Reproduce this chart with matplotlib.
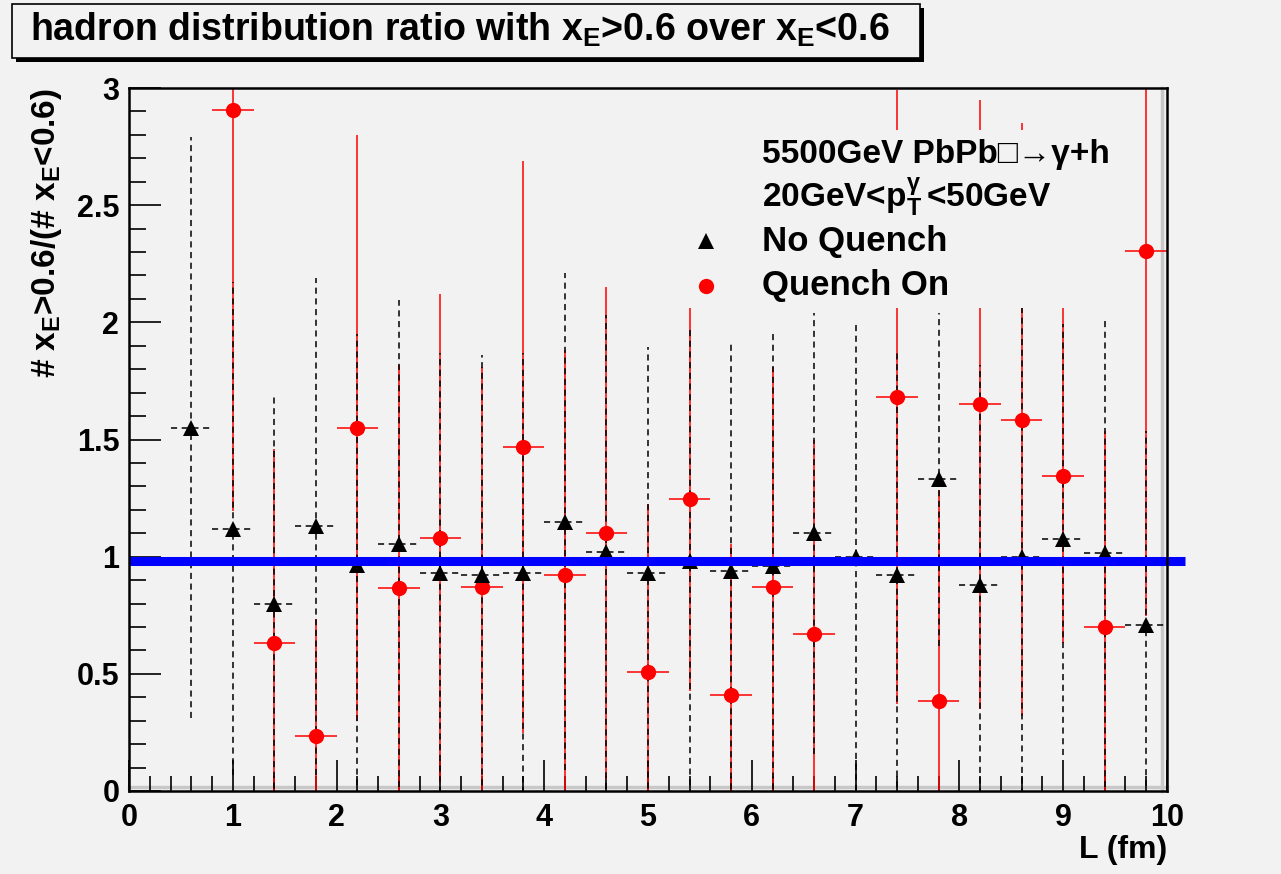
import numpy as np
import matplotlib
matplotlib.use("Agg")
import matplotlib.pyplot as plt
from matplotlib.patches import Rectangle
from matplotlib.lines import Line2D

plt.rcParams['font.family'] = ['Liberation Sans', 'DejaVu Sans']
plt.rcParams['font.weight'] = 'bold'
plt.rcParams['mathtext.fontset'] = 'custom'
plt.rcParams['mathtext.rm'] = 'Liberation Sans:bold'
plt.rcParams['mathtext.bf'] = 'Liberation Sans:bold'
plt.rcParams['mathtext.it'] = 'Liberation Sans:bold'
plt.rcParams['mathtext.default'] = 'rm'

# No Quench (black triangles)
nq_x = [0.6, 1.0, 1.4, 1.8, 2.2, 2.6, 3.0, 3.4, 3.8, 4.2, 4.6, 5.0,
        5.4, 5.8, 6.2, 6.6, 7.0, 7.4, 7.8, 8.2, 8.6, 9.0, 9.4, 9.8]
nq_y = [1.55, 1.12, 0.80, 1.13, 0.965, 1.055, 0.93, 0.92, 0.93, 1.15, 1.02, 0.93,
        0.98, 0.94, 0.96, 1.10, 1.00, 0.92, 1.33, 0.88, 1.00, 1.075, 1.015, 0.71]
nq_err = [1.24, 1.05, 0.88, 1.06, 0.985, 1.04, 0.94, 0.94, 0.94, 1.06, 1.01, 0.965,
          1.00, 0.98, 1.00, 0.94, 1.00, 0.95, 0.71, 0.94, 1.06, 0.92, 1.00, 0.825]

# Quench On (red circles)
qo_x = [1.0, 1.4, 1.8, 2.2, 2.6, 3.0, 3.4, 3.8, 4.2, 4.6, 5.0,
        5.4, 5.8, 6.2, 6.6, 7.4, 7.8, 8.2, 8.6, 9.0, 9.4, 9.8]
qo_y = [2.905, 0.63, 0.235, 1.55, 0.865, 1.08, 0.87, 1.467, 0.92, 1.10, 0.506,
        1.245, 0.41, 0.87, 0.67, 1.68, 0.385, 1.65, 1.585, 1.345, 0.70, 2.305]
qo_err = [1.71, 0.83, 0.50, 1.25, 0.955, 1.04, 0.94, 1.22, 0.96, 1.05, 0.72,
          0.82, 0.645, 0.94, 0.83, 1.31, 0.90, 1.30, 1.265, 0.715, 0.835, 1.56]
bin_half = 0.2
ref_level = 0.98

W, H = 1281, 874
bg = '#f2f2f2'
fig = plt.figure(figsize=(W/100, H/100), dpi=100, facecolor=bg)
ax = fig.add_axes([129/W, 1-791/H, (1167-129)/W, (791-88)/H], facecolor=bg)

# red error bars
eb_r = ax.errorbar(qo_x, qo_y, yerr=qo_err, xerr=bin_half, fmt='none',
                   ecolor='red', elinewidth=1.1, zorder=2)
# black dashed error bars
eb_k = ax.errorbar(nq_x, nq_y, yerr=nq_err, xerr=bin_half, fmt='none',
                   ecolor='black', elinewidth=1.1, zorder=3)
for c in eb_k[2]:
    c.set_linestyle((0, (4, 3)))

ax.plot(qo_x, qo_y, 'o', color='red', markersize=11, markeredgewidth=0, zorder=4)
ax.plot(nq_x, nq_y, '^', color='black', markersize=12, markeredgewidth=0, zorder=5)

ax.plot([0, 10.17], [ref_level, ref_level], color='#0000ff', linewidth=6.5,
        solid_capstyle='butt', clip_on=False, zorder=6)

ax.set_xlim(0, 10)
ax.set_ylim(0, 3)
ax.set_xticks(np.arange(0, 11, 1))
ax.set_xticks(np.arange(0, 10.01, 0.2), minor=True)
ax.set_yticks(np.arange(0, 3.01, 0.5))
ax.set_yticks(np.arange(0, 3.01, 0.1), minor=True)
ax.set_yticklabels(['0', '0.5', '1', '1.5', '2', '2.5', '3'])
ax.tick_params(axis='both', which='major', direction='in', labelsize=22,
               width=1.2, top=False, right=False)
ax.tick_params(axis='x', which='major', length=22, pad=9)
ax.tick_params(axis='y', which='major', length=23, pad=7)
ax.tick_params(axis='x', which='minor', direction='in', length=11, width=1.2, top=False)
ax.tick_params(axis='y', which='minor', direction='in', length=12, width=1.2, right=False)
for s in ax.spines.values():
    s.set_linewidth(1.8)
    s.set_zorder(7)

# frame inner shading on right and bottom
ax.plot([0.995, 0.995], [0, 1], color='#c8c8c8', linewidth=2.5,
        transform=ax.transAxes, clip_on=False, zorder=1)
ax.plot([0, 1], [0.006, 0.006], color='#c8c8c8', linewidth=2.5,
        transform=ax.transAxes, clip_on=False, zorder=1)

# axis titles
fig.text(1167/W, 1-850/H, 'L (fm)', ha='right', va='center', fontsize=23)
fig.text(47/W, 1-88/H, r'# x$_\mathrm{E}$>0.6/(# x$_\mathrm{E}$<0.6)', rotation=90,
         ha='center', va='top', fontsize=24)

# title box
fig.add_artist(Rectangle((16/W, 1-62/H), (908)/W, (54)/H, transform=fig.transFigure,
                         facecolor='black', edgecolor='black', linewidth=0))
fig.add_artist(Rectangle((12/W, 1-58/H), (908)/W, (54)/H, transform=fig.transFigure,
                         facecolor=bg, edgecolor='black', linewidth=1.2))
fig.text(30/W, 1-41/H,
         r'hadron distribution ratio with x$_\mathrm{E}$>0.6 over x$_\mathrm{E}$<0.6',
         ha='left', va='baseline', fontsize=27)

# legend (filled box hides the lines behind it)
fig.add_artist(Rectangle((680/W, 1-308/H), (1115-680)/W, (308-130)/H,
                         transform=fig.transFigure, facecolor=bg, edgecolor='none',
                         zorder=1))
fig.text(762/W, 1-155/H, '5500GeV PbPb\u25a1\u2192\u03b3+h', ha='left', va='center', fontsize=24)
fig.text(762/W, 1-197/H, r'20GeV<p$_\mathrm{T}^{\gamma}\,$<50GeV', ha='left', va='center', fontsize=24)
fig.text(762/W, 1-241/H, 'No Quench', ha='left', va='center', fontsize=25)
fig.text(762/W, 1-286/H, 'Quench On', ha='left', va='center', fontsize=25)
fig.add_artist(Line2D([706/W], [1-241/H], marker='^', color='black', markersize=12,
                      markeredgewidth=0, linestyle='none', transform=fig.transFigure, zorder=2))
fig.add_artist(Line2D([706/W], [1-286/H], marker='o', color='red', markersize=11,
                      markeredgewidth=0, linestyle='none', transform=fig.transFigure, zorder=2))

fig.savefig('out.png', dpi=100, facecolor=bg)
